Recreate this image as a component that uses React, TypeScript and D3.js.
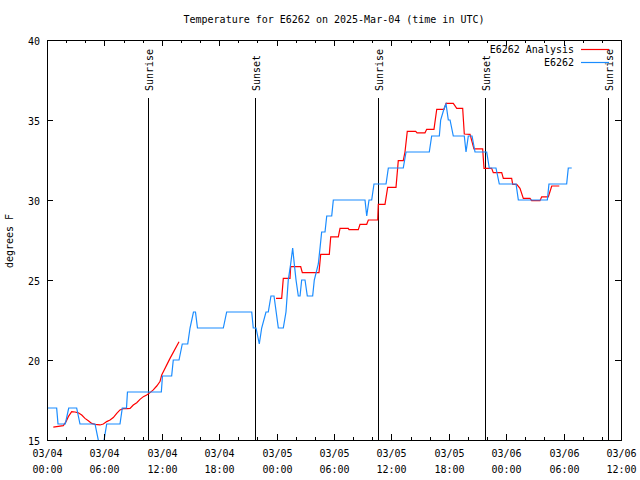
import React from "react";
import * as d3 from "d3";

// hours since 2025-03-04 00:00 UTC
const obsHours = [0, 1.01, 1.15, 1.91, 2.27, 3.1, 3.45, 5.02, 5.7, 6.24, 7.63, 7.87, 8.31, 8.41, 11.95, 12.07, 13.03, 13.2, 13.8, 14.14, 14.71, 14.95, 15.31, 15.52, 15.73, 18.43, 18.78, 21.4, 21.56, 21.85, 22.19, 22.44, 22.89, 23.13, 23.41, 23.73, 24.18, 24.7, 24.98, 25.22, 25.47, 25.68, 25.85, 26.03, 26.27, 26.45, 26.62, 26.97, 27.21, 27.77, 27.94, 28.36, 28.54, 28.71, 29.06, 29.24, 29.76, 29.93, 33.24, 33.42, 33.66, 33.94, 34.18, 35.44, 35.68, 37.24, 37.53, 39.96, 40.21, 41.01, 41.15, 41.5, 41.71, 41.95, 42.13, 42.47, 43.62, 43.8, 44.04, 44.43, 44.74, 45.96, 46.23, 46.93, 47.28, 49.03, 49.27, 52.3, 52.47, 54.32, 54.49, 54.85];
const obsTemps = [17, 17, 16, 16, 17, 17, 16, 16, 14, 16, 16, 17, 17, 18, 18, 19, 19, 20, 20, 21, 21, 22, 23, 23, 22, 22, 23, 23, 22, 22, 21, 22, 23, 23, 24, 24, 22, 22, 23, 25, 26, 27, 26, 25, 24, 24, 25, 25, 24, 24, 25, 26, 27, 28, 28, 29, 29, 30, 30, 29, 30, 30, 31, 31, 32, 32, 33, 33, 34, 34, 35, 35.7, 36, 35, 35, 34, 34, 33, 34, 34, 33, 33, 32, 32, 31, 31, 30, 30, 31, 31, 32, 32];

const anaHours = [0.66, 1.18, 1.7, 1.99, 2.23, 2.58, 2.93, 3.27, 3.63, 3.97, 4.32, 4.67, 5.02, 5.54, 5.89, 6.24, 6.59, 6.93, 7.29, 7.63, 7.98, 8.39, 8.68, 9.02, 9.38, 9.72, 10.07, 10.42, 10.77, 11.11, 11.47, 11.81, 11.99, 12.86, 13.8,
  NaN,
  23.94, 24.53, 24.7, 25.4, 25.47, 26.52, 26.69, 28.43, 28.61, 29.51, 29.66, 30.45, 30.63, 31.49, 31.57, 32.54, 32.72, 33.42, 33.59, 34.57, 34.63, 35.33, 35.61, 36.48, 36.72, 37.24, 37.42, 37.66, 38.54, 38.68, 39.51, 39.69, 40.45, 40.74, 41.5, 41.71, 42.47, 42.83, 43.45, 43.62, 44.22, 44.63, 45.54, 45.68, 46.48, 46.65, 47.53, 47.7, 48.57, 48.68, 49.1, 49.44, 49.79, 50.49, 50.66, 51.53, 51.71, 52.4, 52.76, 53.55];
const anaTemps = [15.8, 15.85, 15.9, 16.15, 16.46, 16.77, 16.75, 16.7, 16.56, 16.35, 16.2, 16.04, 15.98, 15.94, 16.0, 16.15, 16.25, 16.4, 16.67, 16.88, 16.96, 16.96, 16.98, 17.19, 17.33, 17.54, 17.71, 17.81, 17.96, 18.13, 18.375, 18.65, 19.06, 20.1, 21.14,
  NaN,
  23.85, 23.85, 25.1, 25.1, 25.83, 25.83, 25.46, 25.46, 26.6, 26.6, 27.7, 27.7, 28.23, 28.23, 28.15, 28.15, 28.48, 28.48, 28.75, 28.75, 29.73, 29.73, 30.79, 30.79, 32.46, 32.46, 33.0, 34.29, 34.29, 34.2, 34.2, 34.42, 34.42, 35.67, 35.67, 36.04, 36.04, 35.73, 35.73, 34.125, 34.1, 33.19, 33.19, 31.98, 31.98, 31.71, 31.71, 31.35, 31.35, 30.98, 30.98, 30.73, 30.1, 30.1, 29.96, 29.96, 30.2, 30.2, 30.875, 30.875];

const sunEventHours = [10.6, 21.77, 34.6, 45.8, 58.6];
const sunEventLabels = ["Sunrise", "Sunset", "Sunrise", "Sunset", "Sunrise"];

const yTicks = [15, 20, 25, 30, 35, 40];
const seriesNames = ["E6262 Analysis", "E6262"];
const seriesColors = ["#ff0000", "#1a8cff"];
const titleText = "Temperature for E6262 on 2025-Mar-04 (time in UTC)";
const yLabel = "degrees F";

const START = Date.UTC(2025, 2, 4, 0, 0);
const END = Date.UTC(2025, 2, 6, 12, 0);
const toDate = (h: number) => new Date(START + h * 3600000);

export default function App() {
  const L = 47, R = 621, T = 40, B = 440;
  const x = d3.scaleUtc().domain([new Date(START), new Date(END)]).range([L, R]);
  const y = d3.scaleLinear().domain([15, 40]).range([B, T]);
  const font = "'DejaVu Sans Mono', monospace";

  const majorTicks = x.ticks(d3.utcHour.every(6)!);
  const minorTicks = x.ticks(d3.utcHour.every(2)!).filter((d) => d.getUTCHours() % 6 !== 0);

  const line = d3
    .line<[number, number]>()
    .defined((d) => !isNaN(d[0]) && !isNaN(d[1]))
    .x((d) => x(toDate(d[0])))
    .y((d) => y(d[1]));

  const anaData: [number, number][] = anaHours.map((h, i) => [h, anaTemps[i]]);
  const obsData: [number, number][] = obsHours.map((h, i) => [h, obsTemps[i]]);

  const fmtDate = d3.utcFormat("%m/%d");
  const fmtTime = d3.utcFormat("%H:%M");

  return (
    <svg width={640} height={480} style={{ position: "absolute", left: 0, top: 0, background: "#fff" }} fontFamily={font} fontSize={10}>
      <rect x={0} y={0} width={640} height={480} fill="#fff" />
      <defs>
        <clipPath id="plotclip">
          <rect x={L} y={T} width={R - L} height={B - T} />
        </clipPath>
      </defs>
      <text x={(L + R) / 2} y={23} textAnchor="middle" fill="#000">{titleText}</text>

      {/* sunrise/sunset markers */}
      {sunEventHours.map((h, i) => {
        const px = Math.round(x(toDate(h))) + 0.5;
        return (
          <g key={"s" + i}>
            <line x1={px} x2={px} y1={98} y2={B} stroke="#000" strokeWidth={1} shapeRendering="crispEdges" />
            <text transform={`translate(${px + 4.5},91) rotate(-90)`} textAnchor="start" fill="#000">{sunEventLabels[i]}</text>
          </g>
        );
      })}

      {/* data */}
      <g clipPath="url(#plotclip)">
        <path d={line(anaData) || ""} fill="none" stroke={seriesColors[0]} strokeWidth={1.2} />
        <path d={line(obsData) || ""} fill="none" stroke={seriesColors[1]} strokeWidth={1.2} />
      </g>

      {/* frame */}
      <rect x={L + 0.5} y={T + 0.5} width={R - L} height={B - T} fill="none" stroke="#000" strokeWidth={1} shapeRendering="crispEdges" />

      {/* x ticks */}
      {majorTicks.map((d, i) => {
        const px = Math.round(x(d)) + 0.5;
        return (
          <g key={"xt" + i}>
            <line x1={px} x2={px} y1={B} y2={B - 6} stroke="#000" shapeRendering="crispEdges" />
            <line x1={px} x2={px} y1={T} y2={T + 6} stroke="#000" shapeRendering="crispEdges" />
            <text x={px} y={457} textAnchor="middle" fill="#000">{fmtDate(d)}</text>
            <text x={px} y={473} textAnchor="middle" fill="#000">{fmtTime(d)}</text>
          </g>
        );
      })}
      {minorTicks.map((d, i) => {
        const px = Math.round(x(d)) + 0.5;
        return (
          <g key={"xm" + i}>
            <line x1={px} x2={px} y1={B} y2={B - 3} stroke="#000" shapeRendering="crispEdges" />
            <line x1={px} x2={px} y1={T} y2={T + 3} stroke="#000" shapeRendering="crispEdges" />
          </g>
        );
      })}

      {/* y ticks */}
      {yTicks.map((v, i) => {
        const py = Math.round(y(v)) + 0.5;
        return (
          <g key={"yt" + i}>
            <line x1={L} x2={L + 6} y1={py} y2={py} stroke="#000" shapeRendering="crispEdges" />
            <line x1={R} x2={R - 6} y1={py} y2={py} stroke="#000" shapeRendering="crispEdges" />
            <text x={40} y={py + 4} textAnchor="end" fill="#000">{v}</text>
          </g>
        );
      })}

      <text transform={`translate(13,241) rotate(-90)`} textAnchor="middle" fill="#000">{yLabel}</text>

      {/* legend */}
      {seriesNames.map((n, i) => (
        <g key={"lg" + i}>
          <text x={574} y={53 + i * 13} textAnchor="end" fill="#000">{n}</text>
          <line x1={581} x2={609} y1={49.5 + i * 13} y2={49.5 + i * 13} stroke={seriesColors[i]} strokeWidth={1.2} />
        </g>
      ))}
    </svg>
  );
}
